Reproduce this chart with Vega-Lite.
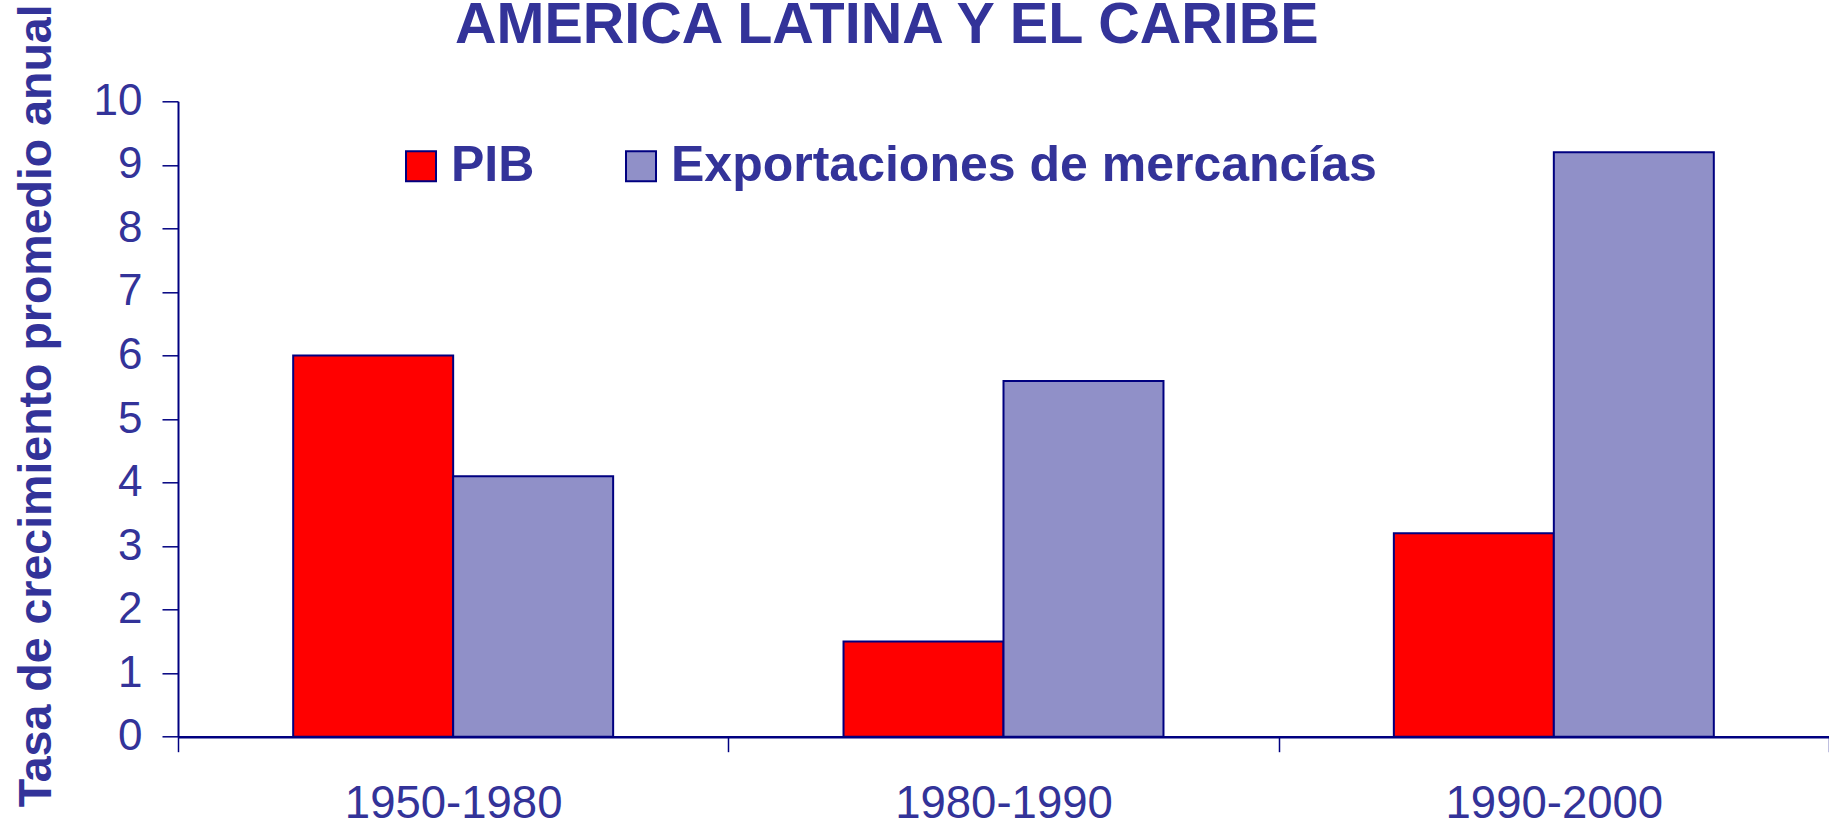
{
  "$schema": "https://vega.github.io/schema/vega-lite/v6.json",
  "autosize": "none",
  "width": 1651,
  "height": 635.4,
  "padding": {"left": 178, "top": 101.3, "right": 0, "bottom": 85.3},
  "background": "white",
  "config": {
    "font": "Liberation Sans",
    "view": {"stroke": null}
  },
  "title": {
    "text": "AMERICA LATINA Y EL CARIBE",
    "anchor": "start",
    "frame": "group",
    "dx": 277,
    "offset": -52,
    "fontSize": 57.5,
    "fontWeight": "bold",
    "color": "#333399",
    "font": "Liberation Sans"
  },
  "data": {
    "values": [
      {"periodo": "1950-1980", "serie": "PIB", "tasa": 6.0},
      {"periodo": "1950-1980", "serie": "Exportaciones de mercancías", "tasa": 4.1},
      {"periodo": "1980-1990", "serie": "PIB", "tasa": 1.5},
      {"periodo": "1980-1990", "serie": "Exportaciones de mercancías", "tasa": 5.6},
      {"periodo": "1990-2000", "serie": "PIB", "tasa": 3.2},
      {"periodo": "1990-2000", "serie": "Exportaciones de mercancías", "tasa": 9.2}
    ]
  },
  "mark": {"type": "bar", "stroke": "#000080", "strokeWidth": 2},
  "encoding": {
    "x": {
      "field": "periodo",
      "type": "nominal",
      "scale": {"paddingInner": 0, "paddingOuter": 0},
      "axis": {
        "title": null,
        "labelAngle": 0,
        "labelFontSize": 45.5,
        "labelColor": "#333399",
        "labelPadding": 30,
        "labelLimit": 600,
        "domainColor": "#000080",
        "domainWidth": 2.5,
        "tickColor": "#000080",
        "tickWidth": 1.5,
        "tickSize": 15,
        "tickBand": "extent"
      }
    },
    "xOffset": {
      "field": "serie",
      "type": "nominal",
      "sort": ["PIB", "Exportaciones de mercancías"],
      "scale": {"paddingInner": 0, "paddingOuter": 0.72}
    },
    "y": {
      "field": "tasa",
      "type": "quantitative",
      "scale": {"domain": [0, 10], "nice": false},
      "axis": {
        "title": "Tasa de crecimiento promedio anual",
        "titleFontSize": 46.5,
        "titleFontWeight": "bold",
        "titleColor": "#333399",
        "titleAngle": -90,
        "titleAlign": "center",
        "titleBaseline": "middle",
        "titleX": -142,
        "titleY": 304,
        "values": [0, 1, 2, 3, 4, 5, 6, 7, 8, 9, 10],
        "labelFontSize": 44,
        "labelColor": "#333399",
        "labelPadding": 20,
        "grid": false,
        "domainColor": "#000080",
        "domainWidth": 2,
        "tickColor": "#000080",
        "tickWidth": 1.5,
        "tickSize": 16
      }
    },
    "color": {
      "field": "serie",
      "type": "nominal",
      "sort": ["PIB", "Exportaciones de mercancías"],
      "scale": {"domain": ["PIB", "Exportaciones de mercancías"], "range": ["#ff0000", "#9090c8"]},
      "legend": {
        "title": null,
        "orient": "none",
        "direction": "horizontal",
        "legendX": 218,
        "legendY": 40,
        "padding": 0,
        "symbolType": "square",
        "symbolSize": 900,
        "symbolStrokeColor": "#000080",
        "symbolStrokeWidth": 2,
        "labelFontSize": 50,
        "labelFontWeight": "bold",
        "labelColor": "#333399",
        "labelOffset": 5,
        "labelLimit": 1000,
        "columnPadding": 81
      }
    }
  }
}
